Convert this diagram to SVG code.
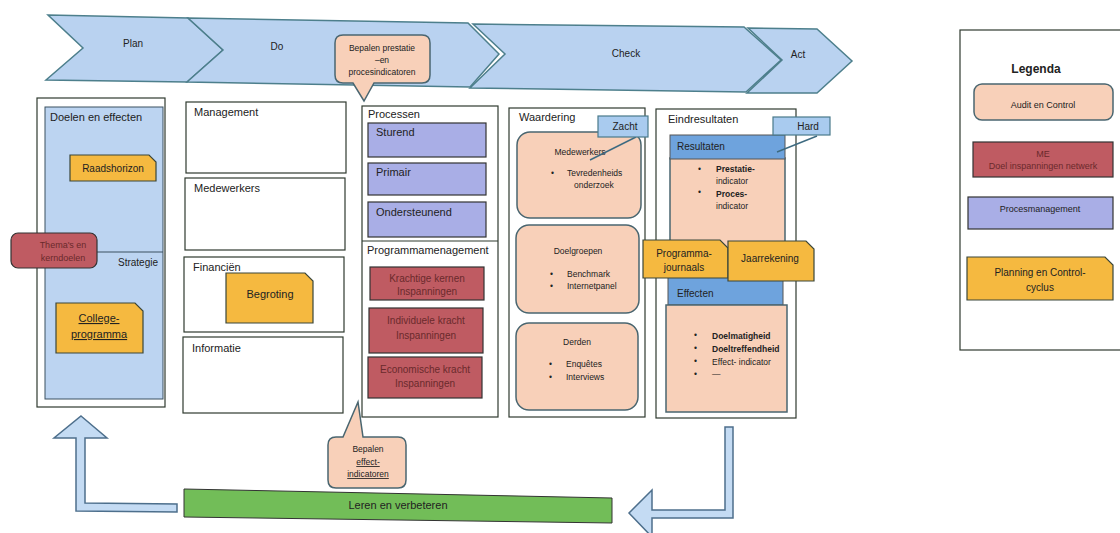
<svg xmlns="http://www.w3.org/2000/svg" width="1120" height="533" viewBox="0 0 1120 533">
<style>
text{font-family:"Liberation Sans",Arial,sans-serif;fill:#222}
.banner{fill:#b9d2f0;stroke:#4d7f8c;stroke-width:1.5}
.col{fill:#fff;stroke:#2f3a2f;stroke-width:1.2}
.blue{fill:#bcd4f1;stroke:#3a5060;stroke-width:1}
.orange{fill:#f5b940;stroke:#3a463a;stroke-width:1.2}
.red{fill:#bf5b62;stroke:#333;stroke-width:1.2}
.lav{fill:#a9aee6;stroke:#333;stroke-width:1.2}
.peach{fill:#f8d0b9;stroke:#4a6670;stroke-width:1.5}
.hdr{fill:#6ea3dd;stroke:#555;stroke-width:1}
.tag{fill:#a9cbef;stroke:#4a7a8a;stroke-width:1.2}
.arrow{fill:#c4dbf3;stroke:#4d6f8c;stroke-width:1.5}
.green{fill:#72bd58;stroke:#333;stroke-width:1}
.t{font-size:11px}
.m{font-size:10px}
.s{font-size:9px}
.xs{font-size:8.5px}
.c{text-anchor:middle}
.rt{fill:#6a2a2c}
.b{font-weight:bold}
.lk{stroke:#3d6a80;stroke-width:1.5;fill:none}
</style>

<g id="banner">
<polygon class="banner" points="48,15 188,18 223,50 187,82 46,80 83,48"/>
<polygon class="banner" points="188,18 468,23 499,54 470,87 187,82 223,50"/>
<polygon class="banner" points="473,24 744,27 781,60 746,92 470,88 505,54"/>
<polygon class="banner" points="748,28 817,29 852,61 817,93 747,93 782,60"/>
<text class="m c" x="133" y="47">Plan</text>
<text class="m c" x="277" y="50">Do</text>
<text class="m c" x="626" y="57">Check</text>
<text class="m c" x="798" y="58">Act</text>
</g>

<g id="callout-top">
<path class="peach" d="M343,35 H422 Q430,35 430,43 V75 Q430,83 422,83 H374 L364,101 L353,83 H343 Q335,83 335,75 V43 Q335,35 343,35 Z"/>
<text class="xs c" x="382" y="51">Bepalen prestatie</text>
<text class="xs c" x="382" y="63">–en</text>
<text class="xs c" x="382" y="75">procesindicatoren</text>
</g>

<g id="doelen">
<rect class="col" x="37" y="98" width="128" height="309"/>
<rect class="blue" x="45" y="107" width="118" height="292"/>
<line x1="45" y1="252" x2="163" y2="252" stroke="#3a5060" stroke-width="1"/>
<text class="t" x="50" y="121">Doelen en effecten</text>
<text class="m" x="158" y="266" text-anchor="end">Strategie</text>
</g>
<g id="raadshorizon">
<path class="orange" d="M70,155 H149 L156,162 V181 H70 Z"/>
<text class="m c" x="113" y="172">Raadshorizon</text>
</g>
<g id="collegeprogramma">
<path class="orange" d="M56,303 H135 L143,311 V353 H56 Z"/>
<text class="t c" x="99" y="322" text-decoration="underline">College-</text>
<text class="t c" x="99" y="338" text-decoration="underline">programma</text>
</g>
<g id="themas">
<rect class="red" x="11" y="233" width="86" height="35" rx="7"/>
<text class="s c rt" x="63" y="248">Thema's en</text>
<text class="s c rt" x="63" y="261">kerndoelen</text>
</g>

<g id="management">
<rect class="col" x="186" y="102" width="160" height="71"/>
<text class="t" x="194" y="116">Management</text>
</g>
<g id="medewerkers">
<rect class="col" x="185" y="178" width="160" height="72"/>
<text class="t" x="194" y="192">Medewerkers</text>
</g>
<g id="financien">
<rect class="col" x="184" y="257" width="160" height="75"/>
<text class="t" x="193" y="271">Financiën</text>
</g>
<g id="begroting">
<path class="orange" d="M226,273 H305 L313,281 V323 H226 Z"/>
<text class="t c" x="270" y="298">Begroting</text>
</g>
<g id="informatie">
<rect class="col" x="183" y="337" width="160" height="76"/>
<text class="t" x="192" y="352">Informatie</text>
</g>

<g id="processen">
<rect class="col" x="362" y="106" width="136" height="311"/>
<line x1="362" y1="241" x2="498" y2="241" stroke="#2f3a2f" stroke-width="1.2"/>
<text class="t" x="368" y="118">Processen</text>
<text class="t" x="367" y="254">Programmamenagement</text>
</g>
<g id="sturend">
<rect class="lav" x="368" y="123" width="118" height="34"/>
<text class="t" x="376" y="136">Sturend</text>
</g>
<g id="primair">
<rect class="lav" x="368" y="163" width="118" height="32"/>
<text class="t" x="376" y="176">Primair</text>
</g>
<g id="ondersteunend">
<rect class="lav" x="368" y="202" width="118" height="35"/>
<text class="t" x="376" y="216">Ondersteunend</text>
</g>
<g id="krachtige">
<rect class="red" x="370" y="267" width="114" height="33"/>
<text class="m c rt" x="427" y="282">Krachtige kernen</text>
<text class="m c rt" x="427" y="295">Inspanningen</text>
</g>
<g id="individuele">
<rect class="red" x="369" y="308" width="114" height="45"/>
<text class="m c rt" x="426" y="324">Individuele kracht</text>
<text class="m c rt" x="426" y="339">Inspanningen</text>
</g>
<g id="economische">
<rect class="red" x="368" y="357" width="114" height="41"/>
<text class="m c rt" x="425" y="373">Economische kracht</text>
<text class="m c rt" x="425" y="387">Inspanningen</text>
</g>

<g id="waardering">
<rect class="col" x="509" y="108" width="136" height="309"/>
<text class="t" x="519" y="121">Waardering</text>
</g>
<g id="w-medewerkers">
<rect class="peach" x="517" y="132" width="124" height="86" rx="13"/>
<text class="xs c" x="580" y="155">Medewerkers</text>
<text class="xs" x="551" y="176">•</text>
<text class="xs" x="567" y="176">Tevredenheids</text>
<text class="xs" x="574" y="188">onderzoek</text>
</g>
<g id="doelgroepen">
<rect class="peach" x="516" y="225" width="123" height="88" rx="13"/>
<text class="xs c" x="578" y="254">Doelgroepen</text>
<text class="xs" x="550" y="277">•</text>
<text class="xs" x="567" y="277">Benchmark</text>
<text class="xs" x="550" y="289">•</text>
<text class="xs" x="567" y="289">Internetpanel</text>
</g>
<g id="derden">
<rect class="peach" x="516" y="323" width="122" height="87" rx="13"/>
<text class="xs c" x="577" y="345">Derden</text>
<text class="xs" x="549" y="367">•</text>
<text class="xs" x="566" y="367">Enquêtes</text>
<text class="xs" x="549" y="380">•</text>
<text class="xs" x="566" y="380">Interviews</text>
</g>

<g id="eindresultaten">
<rect class="col" x="656" y="109" width="140" height="309"/>
<text class="t" x="668" y="123">Eindresultaten</text>
</g>
<g id="resultaten">
<rect class="peach" x="670" y="158" width="115" height="106" stroke-width="1"/>
<rect class="hdr" x="670" y="135" width="115" height="24"/>
<text class="m" x="677" y="150">Resultaten</text>
<text class="xs" x="698" y="172">•</text>
<text class="xs b" x="716" y="172">Prestatie-</text>
<text class="xs" x="716" y="184">indicator</text>
<text class="xs" x="698" y="195">•</text>
<text class="xs b" x="716" y="197">Proces-</text>
<text class="xs" x="716" y="209">indicator</text>
</g>
<g id="effecten">
<rect class="hdr" x="668" y="262" width="115" height="43"/>
<text class="m" x="677" y="297">Effecten</text>
<rect class="peach" x="666" y="305" width="121" height="107" stroke-width="1"/>
<text class="xs" x="694" y="338">•</text>
<text class="xs b" x="712" y="339">Doelmatigheid</text>
<text class="xs" x="694" y="351">•</text>
<text class="xs b" x="712" y="352">Doeltreffendheid</text>
<text class="xs" x="694" y="364">•</text>
<text class="xs" x="712" y="365">Effect- indicator</text>
<text class="xs" x="694" y="377">•</text>
<text class="xs" x="712" y="377">—</text>
</g>
<g id="programmajournaals">
<path class="orange" d="M643,240 H720 L728,248 V278 H643 Z"/>
<text class="m c" x="684" y="257">Programma-</text>
<text class="m c" x="684" y="271">journaals</text>
</g>
<g id="jaarrekening">
<path class="orange" d="M728,241 H806 L814,249 V281 H728 Z"/>
<text class="m c" x="770" y="262">Jaarrekening</text>
</g>

<g id="connectors">
<line class="lk" x1="636" y1="137" x2="590" y2="160"/>
<line class="lk" x1="817" y1="136" x2="777" y2="152"/>
</g>
<g id="zacht">
<rect class="tag" x="598" y="116" width="50" height="21"/>
<text class="m c" x="625" y="130">Zacht</text>
</g>
<g id="hard">
<rect class="tag" x="773" y="117" width="57" height="18"/>
<text class="m c" x="808" y="130">Hard</text>
</g>

<g id="legenda">
<rect class="col" x="960" y="30" width="170" height="320" stroke="#5a6a6a"/>
<text class="c b" x="1036" y="73" font-size="12">Legenda</text>
<rect class="peach" x="974" y="84" width="139" height="36" rx="8"/>
<text class="s c" x="1043" y="108">Audit en Control</text>
<rect class="red" x="973" y="142" width="140" height="35"/>
<text class="s c rt" x="1043" y="157">ME</text>
<text class="s c rt" x="1043" y="169">Doel inspanningen netwerk</text>
<rect class="lav" x="968" y="197" width="145" height="32"/>
<text class="s c" x="1040" y="212">Procesmanagement</text>
<path class="orange" d="M967,257 H1105 L1113,265 V300 H967 Z"/>
<text class="m c" x="1040" y="276">Planning en Control-</text>
<text class="m c" x="1040" y="291">cyclus</text>
</g>

<g id="callout-bottom">
<path class="peach" d="M336,437 H343 L358,402 L363,437 H398 Q406,437 406,445 V480 Q406,488 398,488 H336 Q328,488 328,480 V445 Q328,437 336,437 Z"/>
<text class="xs c" x="368" y="452">Bepalen</text>
<text class="xs c" x="368" y="465" text-decoration="underline">effect-</text>
<text class="xs c" x="368" y="477" text-decoration="underline">indicatoren</text>
</g>

<g id="leren">
<polygon class="green" points="184,489 612,498 612,523 184,517"/>
<text class="t c" x="398" y="509">Leren en verbeteren</text>
</g>

<g id="arrows">
<polygon class="arrow" points="81,416 107,438 85,438 85,503 177,504 177,512 76,511 76,438 54,438"/>
<polygon class="arrow" points="733,427 733,518 652,518 652,537 629,513 652,490 652,510 725,510 725,427"/>
</g>
</svg>
